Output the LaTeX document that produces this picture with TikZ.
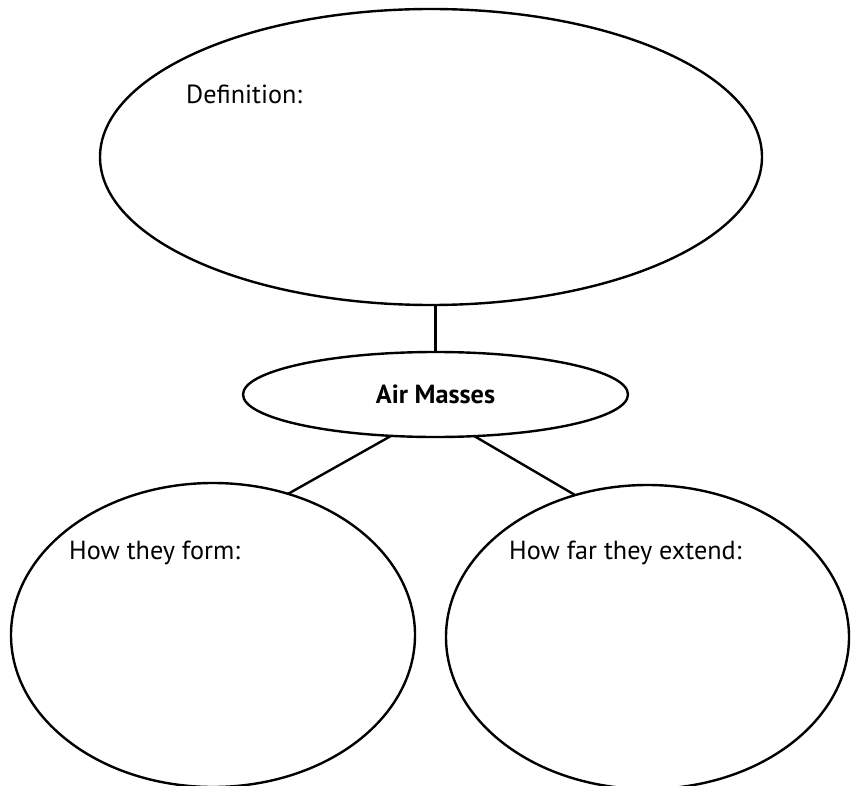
\documentclass[tikz,border=0pt]{standalone}
\usepackage{fontspec}
\setmainfont{PT Sans}
\usetikzlibrary{shapes.geometric}
\begin{document}
\begin{tikzpicture}[x=1pt,y=-1pt,
  bubble/.style={draw=black,line width=2.4pt,ellipse,inner sep=0pt,outer sep=0pt},
  label/.style={anchor=base west,inner sep=0pt,font=\fontsize{26.2}{31}\selectfont},
  link/.style={draw=black,line width=2.4pt}]
\useasboundingbox (0,0) rectangle (859,786);
\node[bubble,minimum width=662pt,minimum height=296pt] (def) at (431,157) {};
\node[bubble,minimum width=385pt,minimum height=85pt,font=\fontsize{26.2}{31}\selectfont\bfseries] (mid) at (435.5,394.5) {Air Masses};
\node[bubble,minimum width=404pt,minimum height=304pt] (form) at (213,635) {};
\node[bubble,minimum width=403pt,minimum height=304pt] (ext) at (647.5,637) {};
\node[label] (tdef) at (186,104) {Definition:};
\node[label] (tform) at (69,559) {How they form:};
\node[label] (text) at (509,559) {How far they extend:};
\draw[link] (mid.north |- def.south) -- (mid.north);
\draw[link] (mid.223) -- (form.62.5);
\draw[link] (mid.313) -- (ext.117.4);
\end{tikzpicture}
\end{document}
